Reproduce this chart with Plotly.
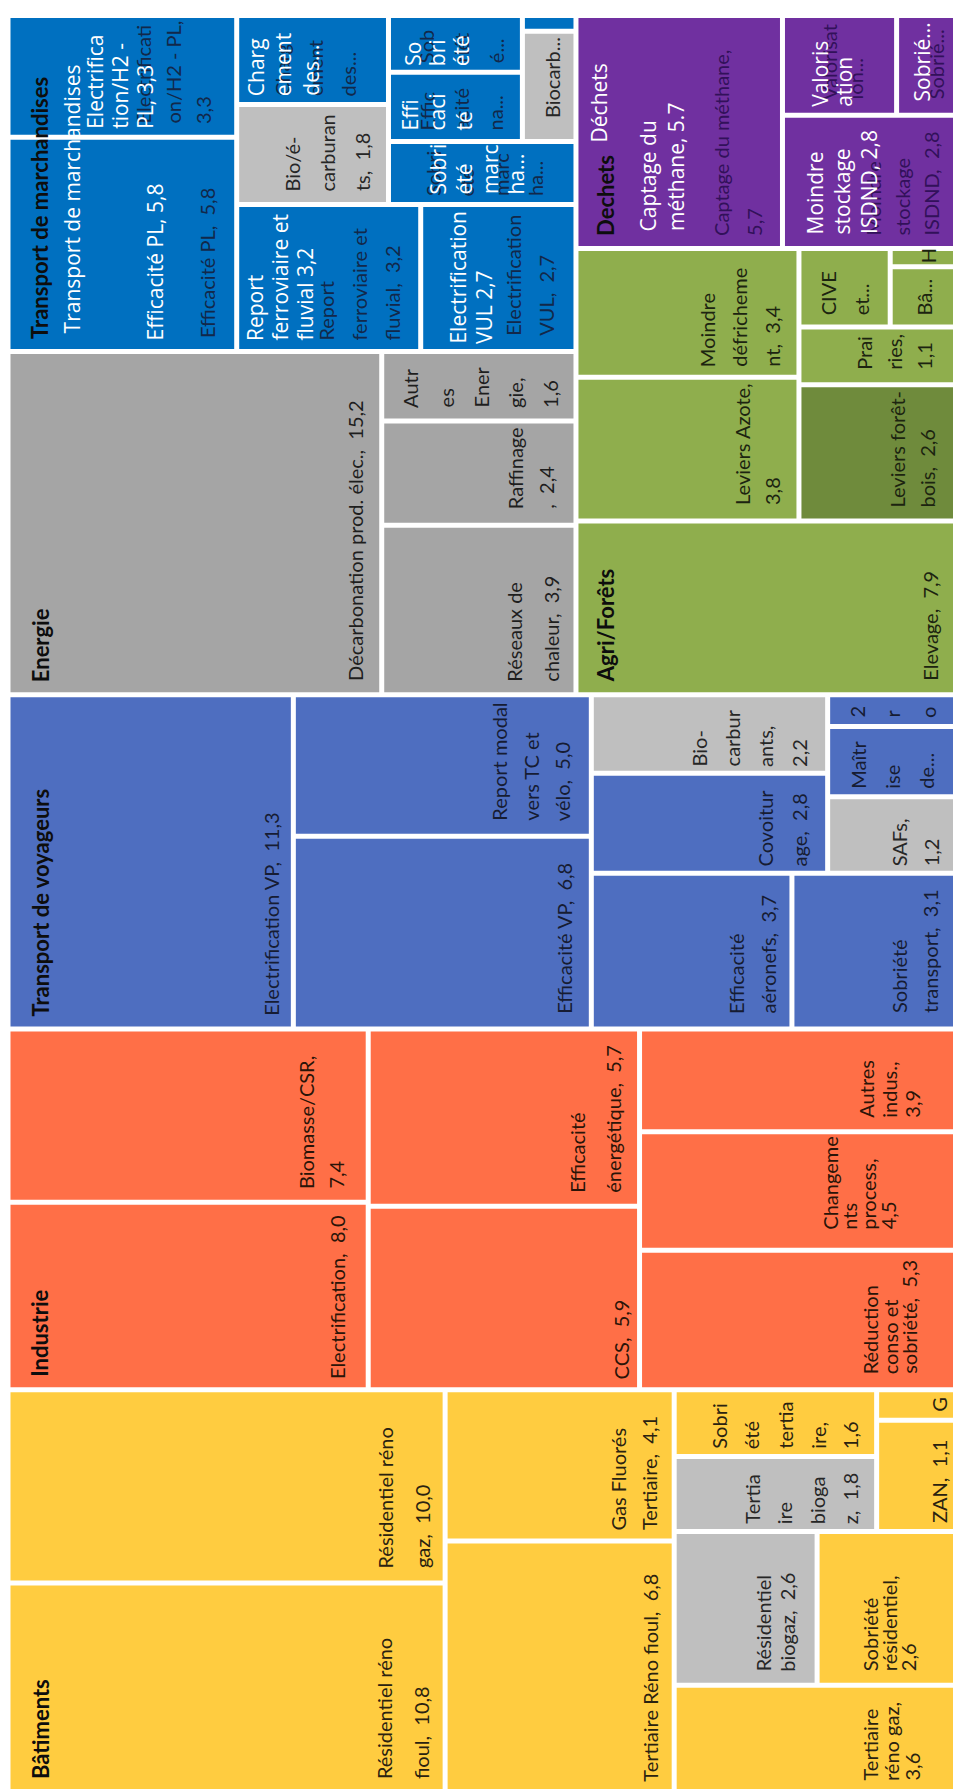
import plotly.graph_objects as go

# ---------------------------------------------------------------- data
group_names = ["Transport de marchandises", "Energie", "Déchets", "Agri/Forêts",
               "Transport de voyageurs", "Industrie", "Bâtiments"]
group_titles = ["Transport de marchandises", "Energie", "Dechets", "Agri/Forêts",
                "Transport de voyageurs", "Industrie", "Bâtiments"]
group_overlays = ["Transport de marchandises", None, "Déchets", None, None, None, None]

leaf_ids = [
    # Transport de marchandises
    "elecH2", "effPL", "charg", "bioE", "sobF", "effN", "autreF", "biocarbF", "sobM", "reportF", "elecVUL",
    # Energie
    "decarb", "autresE", "raffinage", "reseaux",
    # Déchets
    "captage", "valoris", "sobD", "stockage",
    # Agri/Forêts
    "defrich", "azote", "cive", "agriH", "agriBa", "prairies", "foret", "elevage",
    # Transport de voyageurs
    "elecVP", "reportTC", "effVP", "biocarbV", "covoit", "deuxR", "maitrise", "safs", "effAero", "sobTr",
    # Industrie
    "biomasse", "elecInd", "effEn", "ccs", "autresInd", "process", "reducInd",
    # Bâtiments
    "resGaz", "resFioul", "gasFl", "tertFioul", "sobTert", "tertBiogaz", "batG", "zan", "resBiogaz", "sobRes", "tertGaz",
]
leaf_groups = (["Transport de marchandises"] * 11 + ["Energie"] * 4 + ["Déchets"] * 4 +
               ["Agri/Forêts"] * 8 + ["Transport de voyageurs"] * 10 + ["Industrie"] * 7 +
               ["Bâtiments"] * 11)
leaf_values = [
    3.3, 5.8, 1.6, 1.8, 0.9, 1.1, 0.1, 0.7, 1.4, 3.2, 2.7,
    15.2, 1.6, 2.4, 3.9,
    5.7, 1.35, 0.75, 2.8,
    3.4, 3.8, 0.85, 0.15, 0.5, 1.1, 2.6, 7.9,
    11.3, 5.0, 6.8, 2.2, 2.8, 0.5, 1.1, 1.2, 3.7, 3.1,
    7.4, 8.0, 5.7, 5.9, 3.9, 4.5, 5.3,
    10.0, 10.8, 4.1, 6.8, 1.6, 1.8, 0.3, 1.1, 2.6, 2.6, 3.6,
]
# labels ("|" = line break)
leaf_labels = [
    "Electrificati|on/H2 - PL,|3,3", "Efficacité PL,  5,8", "Charg|ement|des...", "Bio/é-|carburan|ts,  1,8",
    "Sob|riét|é...", "Effic|acité|na...", "", "Biocarb...", "Sobri|été|marc|ha...",
    "Report|ferroviaire et|fluvial,  3,2", "Electrification|VUL,  2,7",
    "Décarbonation prod. élec.,  15,2", "Autr|es|Ener|gie,|1,6", "Raffinage|,  2,4", "Réseaux de|chaleur,  3,9",
    "Captage du méthane,|5,7", "Valorisat|ion...", "Sobrié...", "Moindre|stockage|ISDND,  2,8",
    "Moindre|défricheme|nt,  3,4", "Leviers Azote,|3,8", "CIVE|et...", "H", "Bâ...", "Prai|ries,|1,1",
    "Leviers forêt-|bois,  2,6", "Elevage,  7,9",
    "Electrification VP,  11,3", "Report modal|vers TC et|vélo,  5,0", "Efficacité VP,  6,8",
    "Bio-|carbur|ants,|2,2", "Covoitur|age,  2,8", "2|r|o", "Maîtr|ise|de...", "SAFs,|1,2",
    "Efficacité|aéronefs,  3,7", "Sobriété|transport,  3,1",
    "Biomasse/CSR,|7,4", "Electrification,  8,0", "Efficacité|énergétique,  5,7", "CCS,  5,9",
    "Autres|indus.,|3,9", "Changeme|nts|process,|4,5", "Réduction|conso et|sobriété,  5,3",
    "Résidentiel réno|gaz,  10,0", "Résidentiel réno|fioul,  10,8", "Gas Fluorés|Tertiaire,  4,1",
    "Tertiaire Réno fioul,  6,8", "Sobri|été|tertia|ire,|1,6", "Tertia|ire|bioga|z,  1,8", "G", "ZAN,  1,1",
    "Résidentiel|biogaz,  2,6", "Sobriété|résidentiel,|2,6", "Tertiaire|réno gaz,|3,6",
]
leaf_overlays = {
    "elecH2": "Electrifica|tion/H2 -|PL, 3,3", "effPL": "Efficacité PL, 5,8", "charg": "Charg|ement|des...",
    "sobF": "So|bri|été", "effN": "Effi|caci|té", "sobM": "Sobri|été|marc|ha...",
    "reportF": "Report|ferroviaire et|fluvial 3,2", "elecVUL": "Electrification|VUL 2,7",
    "captage": "Captage du|méthane, 5.7", "valoris": "Valoris|ation", "sobD": "Sobrié...",
    "stockage": "Moindre|stockage|ISDND, 2,8",
}

# ---------------------------------------------------------------- nesting structure of the slices
MARCH = ("H", [("V", ["elecH2", "effPL"]),
               ("V", [("H", [("V", ["charg", "bioE"]),
                             ("V", [("H", [("V", ["sobF", "effN"]), ("V", ["autreF", "biocarbF"])]), "sobM"])]),
                      ("H", ["reportF", "elecVUL"])])])
ENERG = ("H", ["decarb", ("V", ["autresE", "raffinage", "reseaux"])])
DECH = ("H", ["captage", ("V", [("H", ["valoris", "sobD"]), "stockage"])])
AGRI = ("V", [("H", [("V", ["defrich", "azote"]),
                     ("V", [("H", ["cive", ("V", ["agriH", "agriBa"])]), "prairies", "foret"])]),
              "elevage"])
VOY = ("H", ["elecVP", ("V", ["reportTC", "effVP"]),
             ("V", [("H", [("V", ["biocarbV", "covoit"]), ("V", ["deuxR", "maitrise", "safs"])]),
                    ("H", ["effAero", "sobTr"])])])
IND = ("H", [("V", ["biomasse", "elecInd"]), ("V", ["effEn", "ccs"]),
             ("V", ["autresInd", "process", "reducInd"])])
BAT = ("H", [("V", ["resGaz", "resFioul"]), ("V", ["gasFl", "tertFioul"]),
             ("V", [("H", [("V", ["sobTert", "tertBiogaz"]), ("V", ["batG", "zan"])]),
                    ("H", ["resBiogaz", "sobRes"]), "tertGaz"])])
TREE = ("V", [("H", [("V", [MARCH, ENERG]), ("V", [DECH, AGRI])]), VOY, IND, BAT])

# ---------------------------------------------------------------- styles
GROUP_COLORS = {
    "Transport de marchandises": "#0070C0", "Energie": "#A5A5A5", "Déchets": "#7030A0",
    "Agri/Forêts": "#8FAE4D", "Transport de voyageurs": "#4E6EC0", "Industrie": "#FF6F47",
    "Bâtiments": "#FFCC40",
}
GREY_LEAVES = {"bioE", "biocarbF", "biocarbV", "safs", "tertBiogaz", "resBiogaz"}
LEAF_COLOR_OVERRIDE = {"foret": "#6F8B3C"}
TEXT_COLORS = {
    "Transport de marchandises": "#12284a", "Energie": "#1e1e1e", "Déchets": "#32115a",
    "Agri/Forêts": "#1c2410", "Transport de voyageurs": "#161c33", "Industrie": "#2a1408",
    "Bâtiments": "#2a2210",
}
X0, Y0, W, H = 8.0, 15.5, 952.0, 1776.0
HALF_GAP = 2.5
FONT = "Lato"
FONT_SIZE = 20
OVER_FONT = "Open Sans"
OVER_SIZE = 21

# label placement: (distance of last line centre from right edge, line pitch, bottom padding)
LABEL_POS = {
    "elecH2": (31, 30, 10), "effPL": (27, 0, 10), "charg": (38, 33, 5), "bioE": (24, 35, 10),
    "sobF": (24, 35, 6), "effN": (25, 34, 8), "biocarbF": (22, 0, 20), "sobM": (39, 34, 5),
    "reportF": (26, 33, 7), "elecVUL": (27, 33, 12),
    "decarb": (25, 0, 10), "autresE": (23, 35, 10), "raffinage": (27, 32, 13), "reseaux": (22, 37, 10),
    "captage": (26, 33, 9), "valoris": (39, 26, 12), "sobD": (22, 0, 12), "stockage": (27, 29, 9),
    "defrich": (24, 33, 7), "azote": (25, 30, 13), "cive": (27, 33, 8), "agriH": (30, 0, 0),
    "agriBa": (33, 0, 8), "prairies": (33, 30, 11), "foret": (30, 30, 10), "elevage": (27, 0, 10),
    "elecVP": (20, 0, 10), "reportTC": (26, 32, 12), "effVP": (25, 0, 12), "biocarbV": (26, 33.5, 3),
    "covoit": (26, 34, 3), "deuxR": (30, 35, 5), "maitrise": (31, 34, 4), "safs": (27, 32, 3),
    "effAero": (21, 32, 12), "sobTr": (27, 31, 12),
    "biomasse": (30, 29, 10), "elecInd": (28, 0, 7), "effEn": (24, 36, 10), "ccs": (16, 0, 7),
    "autresInd": (45, 23, 10), "process": (70, 19, 17), "reducInd": (48, 20, 12),
    "resGaz": (20, 38, 11), "resFioul": (22, 37, 9), "gasFl": (22, 32, 7), "tertFioul": (22, 0, 6),
    "sobTert": (24, 33, 4), "tertBiogaz": (24, 33, 4), "batG": (18, 0, 5), "zan": (19, 0, 5),
    "resBiogaz": (27, 25, 10), "sobRes": (50, 19, 10), "tertGaz": (46, 21, 7),
}
# overlay placement: (first line centre from left edge, pitch, bottom padding)
OVERLAY_POS = {
    "elecH2": (84.5, 25, 5), "effPL": (144.5, 0, 7), "charg": (17, 27.5, 5), "sobF": (22, 24, 3),
    "effN": (19, 27, 8), "sobM": (47, 26, 7), "reportF": (16, 25, 7), "elecVUL": (35, 26, 4),
    "captage": (70.5, 27, 14), "valoris": (35, 24, 5), "sobD": (23, 0, 10), "stockage": (31, 26.5, 11),
}
GROUP_TITLE_POS = {"Agri/Forêts": (27, 9), "Déchets": (27, 9)}
GROUP_OVERLAY_POS = {"Transport de marchandises": (61.5, 14), "Déchets": (21.5, 103)}

# ---------------------------------------------------------------- layout computation
VAL = dict(zip(leaf_ids, leaf_values))


def subtree_value(node):
    if isinstance(node, str):
        return VAL[node]
    return sum(subtree_value(k) for k in node[1])


def place(node, x0, y0, x1, y1, out):
    if isinstance(node, str):
        out[node] = (x0, y0, x1, y1)
        return
    d, kids = node
    tot = sum(subtree_value(k) for k in kids)
    p = x0 if d == "H" else y0
    for k in kids:
        f = subtree_value(k) / tot
        if d == "H":
            q = p + (x1 - x0) * f
            place(k, p, y0, q, y1, out)
        else:
            q = p + (y1 - y0) * f
            place(k, x0, p, x1, q, out)
        p = q


rects = {}
place(TREE, X0, Y0, X0 + W, Y0 + H, rects)

fig = go.Figure()
annotations = []


def vis(r):
    x0, y0, x1, y1 = r
    return x0 + HALF_GAP, y0 + HALF_GAP, x1 - HALF_GAP, y1 - HALF_GAP


for lid, grp, val, lab in zip(leaf_ids, leaf_groups, leaf_values, leaf_labels):
    l, t, r, b = vis(rects[lid])
    color = LEAF_COLOR_OVERRIDE.get(lid, "#BFBFBF" if lid in GREY_LEAVES else GROUP_COLORS[grp])
    fig.add_trace(go.Scatter(
        x=[l, r, r, l, l], y=[t, t, b, b, t], mode="lines", fill="toself",
        fillcolor=color, line=dict(width=0, color=color),
        hoverinfo="text", text=f"{grp} / {lab.replace('|', ' ')}", showlegend=False))
    if lab:
        pad_c, pitch, pad_b = LABEL_POS[lid]
        lines = lab.split("|")
        n = len(lines)
        tcol = "#262626" if lid in GREY_LEAVES else TEXT_COLORS[grp]
        for i, ln in enumerate(lines):
            xc = r - pad_c - (n - 1 - i) * pitch
            annotations.append(dict(
                x=xc, y=b - pad_b, xref="x", yref="y", text=ln, textangle=-90, showarrow=False,
                xanchor="center", yanchor="bottom", borderpad=0,
                font=dict(family=FONT, size=FONT_SIZE, color=tcol)))
    if lid in leaf_overlays:
        dx, pitch, pad_b = OVERLAY_POS[lid]
        for i, ln in enumerate(leaf_overlays[lid].split("|")):
            annotations.append(dict(
                x=l + dx + i * pitch, y=b - pad_b, xref="x", yref="y", text=ln, textangle=-90,
                showarrow=False, xanchor="center", yanchor="bottom", borderpad=0,
                font=dict(family=OVER_FONT, size=OVER_SIZE, color="#ffffff")))

# group titles
for g, title, over in zip(group_names, group_titles, group_overlays):
    boxes = [vis(rects[i]) for i, gg in zip(leaf_ids, leaf_groups) if gg == g]
    gl = min(bx[0] for bx in boxes)
    gb = max(bx[3] for bx in boxes)
    dx, pb = GROUP_TITLE_POS.get(g, (29.5, 9))
    annotations.append(dict(
        x=gl + dx, y=gb - pb, xref="x", yref="y", text=f"<b>{title}</b>", textangle=-90,
        showarrow=False, xanchor="center", yanchor="bottom", borderpad=0,
        font=dict(family=FONT, size=22, color="#0d0d0d")))
    if over:
        odx, opb = GROUP_OVERLAY_POS[g]
        annotations.append(dict(
            x=gl + odx, y=gb - opb, xref="x", yref="y", text=over, textangle=-90,
            showarrow=False, xanchor="center", yanchor="bottom", borderpad=0,
            font=dict(family=OVER_FONT, size=OVER_SIZE, color="#ffffff")))

fig.update_layout(
    width=953, height=1789, margin=dict(l=0, r=0, t=0, b=0),
    paper_bgcolor="#ffffff", plot_bgcolor="#ffffff",
    xaxis=dict(range=[0, 953], visible=False, fixedrange=True),
    yaxis=dict(range=[1789, 0], visible=False, fixedrange=True),
    annotations=annotations, showlegend=False, hovermode="closest",
)
fig.write_html("out.html")
